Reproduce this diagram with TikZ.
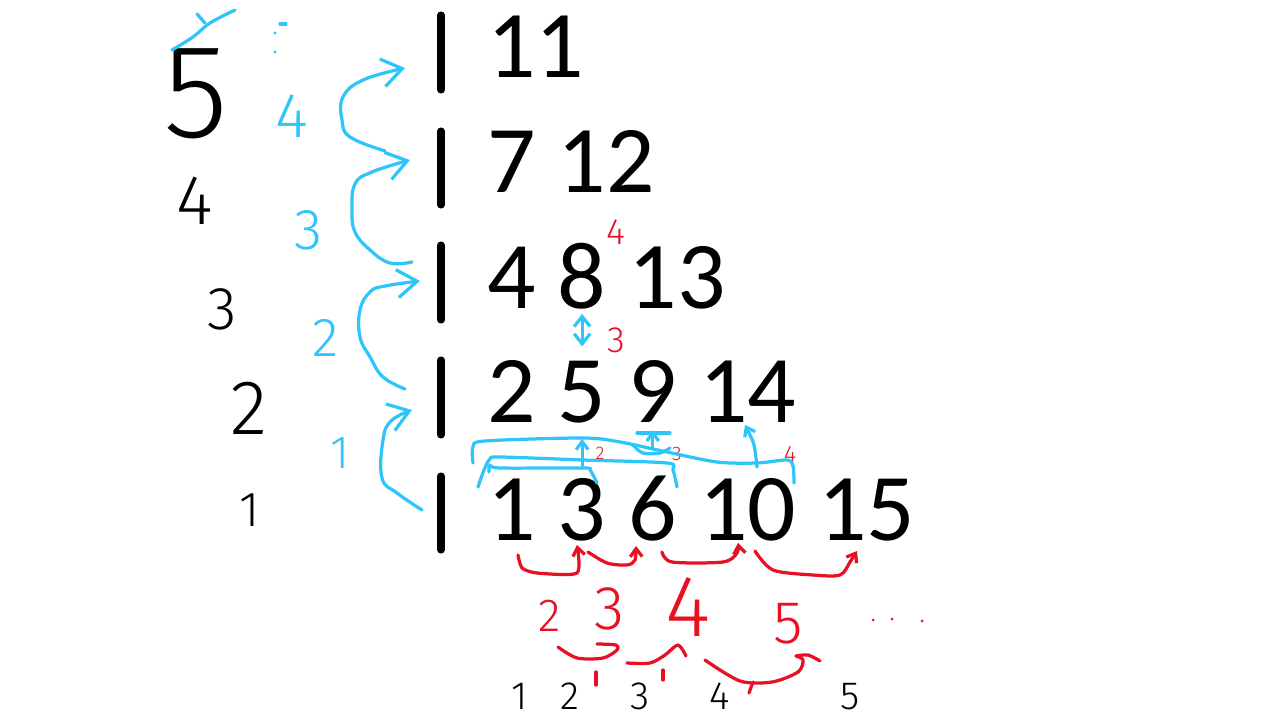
\documentclass[tikz,border=0pt]{standalone}
\usepackage{fontspec}
\setmainfont{Carlito}
\newfontfamily\handfont{Fira Sans Light}
\usetikzlibrary{positioning,arrows.meta}
\definecolor{penblue}{RGB}{45,197,250}
\definecolor{penred}{RGB}{232,17,35}
\newcommand{\pen}[1]{\handfont\fontsize{#1}{#1}\selectfont}

\begin{document}
\begin{tikzpicture}[
    x=0.025cm, y=-0.025cm,
    num/.style={inner sep=0pt, font=\fontsize{68}{68}\selectfont},
    bar/.style={line width=5pt, line cap=round},
    hand/.style={inner sep=0pt},
    ink/.style={line width=2.3pt, line cap=round, line join=round},
    blueink/.style={ink, penblue},
    redink/.style={ink, penred},
    bighead/.style={-{Straight Barb[length=5mm,width=7mm]}},
    smallhead/.style={-{Straight Barb[length=2mm,width=3mm]}},
    twohead/.style={{Straight Barb[length=2.5mm,width=4mm]}-{Straight Barb[length=2.5mm,width=4mm]}},
    node distance=0.54cm
  ]
  \useasboundingbox (0,0) rectangle (1280,720);

  % Rows of the triangle
  \draw[bar] (441,15) -- (441,90);
  \node[num, anchor=base west] (n11) at (487,78) {11};
  \draw[bar] (441,131) -- (441,205);
  \node[num, anchor=base west] (n7) at (487,193) {7};
  \node[num, base right=of n7] (n12) {12};
  \draw[bar] (441,245) -- (441,320);
  \node[num, anchor=base west] (n4) at (487,309) {4};
  \node[num, base right=of n4] (n8) {8};
  \node[num, base right=of n8] (n13) {13};
  \draw[bar] (441,360) -- (441,435);
  \node[num, anchor=base west] (n2) at (487,423) {2};
  \node[num, base right=of n2] (n5) {5};
  \node[num, base right=of n5] (n9) {9};
  \node[num, base right=of n9] (n14) {14};
  \draw[bar] (441,476) -- (441,550);
  \node[num, anchor=base west] (n1) at (487,540) {1};
  \node[num, base right=of n1] (n3) {3};
  \node[num, base right=of n3] (n6) {6};
  \node[num, base right=of n6] (n10) {10};
  \node[num, base right=of n10] (n15) {15};

  % Row counts, black
  \node[hand, font=\pen{95}] (r5) at (196,94) {5};
  \node[hand, font=\pen{50}] (r4) at (195,201) {4};
  \node[hand, font=\pen{43}] (r3) at (222,309) {3};
  \node[hand, font=\pen{55}] (r2) at (249,408) {2};
  \node[hand, font=\pen{35}] (r1) at (250,510) {1};
  \draw[blueink] plot[smooth, tension=0.6] coordinates {(172,50) (193,37) (210,23) (235,10)};
  \draw[blueink] (197,14) -- (205,23);
  \draw[blueink] (280,24) -- (286,24);
  \fill[penblue] (275,33) circle (1.6) (275,52) circle (1.6);

  % Steps between the rows, blue
  \node[hand, text=penblue, font=\pen{45}] (d4) at (292,116) {4};
  \node[hand, text=penblue, font=\pen{41}] (d3) at (309,230) {3};
  \node[hand, text=penblue, font=\pen{39}] (d2) at (326,338) {2};
  \node[hand, text=penblue, font=\pen{33}] (d1) at (340,453) {1};
  \draw[blueink, bighead] plot[smooth, tension=0.7] coordinates {(385,151) (350,137) (342,120) (343,97) (363,80) (405,68)};
  \draw[blueink, bighead] plot[smooth, tension=0.7] coordinates {(412,262) (390,263) (370,250) (355,232) (352,210) (355,184) (372,172) (410,160)};
  \draw[blueink, bighead] plot[smooth, tension=0.7] coordinates {(405,389) (383,377) (370,357) (360,337) (360,310) (370,292) (385,286) (420,281)};
  \draw[blueink, bighead] plot[smooth, tension=0.7] coordinates {(422,510) (397,493) (382,478) (383,440) (391,421) (412,410)};

  % Column links, blue
  \draw[blueink, twohead, shorten <=1mm, shorten >=3.75mm] (n8.south) -- (n5.north);
  \node[hand, text=penred, font=\pen{26}] (a8) at (616,232) {4};
  \node[hand, text=penred, font=\pen{26}] (b8) at (616,340) {3};
  \draw[blueink, smallhead, shorten <=3mm, shorten >=3.75mm] (n3.north) -- (n5.south);
  \draw[blueink, smallhead, shorten <=6.75mm, shorten >=1.75mm] (n6.north) -- (n9.south);
  \draw[blueink] (637,433) -- (670,433);
  \draw[blueink] plot[smooth, tension=0.6] coordinates {(633,445) (643,453) (660,453) (670,448)};
  \draw[blueink, smallhead] plot[smooth, tension=0.6] coordinates {(757,467) (754,445) (749,433) (745,425)};
  \node[hand, text=penred, font=\pen{13}] (b5) at (600,453) {2};
  \node[hand, text=penred, font=\pen{14}] (b9) at (677,454) {3};
  \node[hand, text=penred, font=\pen{17}] (b14) at (790,454) {4};
  % brackets over the bottom row
  \draw[blueink] plot[smooth, tension=0.5] coordinates {(473,463) (473,447) (485,441) (583,438) (620,442) (667,452) (717,462) (757,463) (787,460) (793,466) (794,483)};
  \draw[blueink] plot[smooth, tension=0.5] coordinates {(478,487) (484,470) (490,459) (500,457) (583,460) (667,463) (673,470) (677,487)};
  \draw[blueink] plot[smooth, tension=0.5] coordinates {(489,472) (490,465) (500,468) (583,468) (590,470) (597,483)};

  % Gaps in the bottom row, red
  \draw[redink, smallhead] plot[smooth, tension=0.4] coordinates {(518,555) (522,568) (537,573) (577,573) (577,545)};
  \draw[redink, smallhead] plot[smooth, tension=0.5] coordinates {(588,552) (607,563) (627,565) (635,560) (636,546)};
  \draw[redink, smallhead] plot[smooth, tension=0.5] coordinates {(662,552) (672,562) (723,562) (737,553) (738,543)};
  \draw[redink, smallhead] plot[smooth, tension=0.5] coordinates {(755,551) (773,570) (813,575) (840,575) (850,562) (857,551)};
  \node[hand, text=penred, font=\pen{33}] (g2) at (550,616) {2};
  \node[hand, text=penred, font=\pen{44}] (g3) at (610,609) {3};
  \node[hand, text=penred, font=\pen{62}] (g4) at (688,607) {4};
  \node[hand, text=penred, font=\pen{43}] (g5) at (788,624) {5};
  \fill[penred] (873,620) circle (1.5) (892,619) circle (1.5) (922,621) circle (1.5);
  \draw[redink] plot[smooth, tension=0.5] coordinates {(558,647) (577,658) (603,658) (617,650) (616,645) (597,644)};
  \draw[redink] plot[smooth, tension=0.5] coordinates {(627,663) (650,663) (665,655) (678,645) (686,656)};
  \draw[redink] plot[smooth, tension=0.5] coordinates {(705,660) (740,681) (772,682) (798,672) (803,660) (796,656)};
  \draw[redink] plot[smooth, tension=0.5] coordinates {(796,656) (808,655) (820,661)};
  \draw[redink] (596,672) -- (596,685);
  \draw[redink] (663,670) -- (663,680);
  \draw[redink] (753,682) -- (749,693);

  % Index of the gaps, black
  \node[hand, anchor=base, font=\pen{28}] (i1) at (520,709) {1};
  \node[hand, anchor=base, font=\pen{28}] (i2) at (570,709) {2};
  \node[hand, anchor=base, font=\pen{28}] (i3) at (640,709) {3};
  \node[hand, anchor=base, font=\pen{28}] (i4) at (720,709) {4};
  \node[hand, anchor=base, font=\pen{28}] (i5) at (850,709) {5};
\end{tikzpicture}
\end{document}
